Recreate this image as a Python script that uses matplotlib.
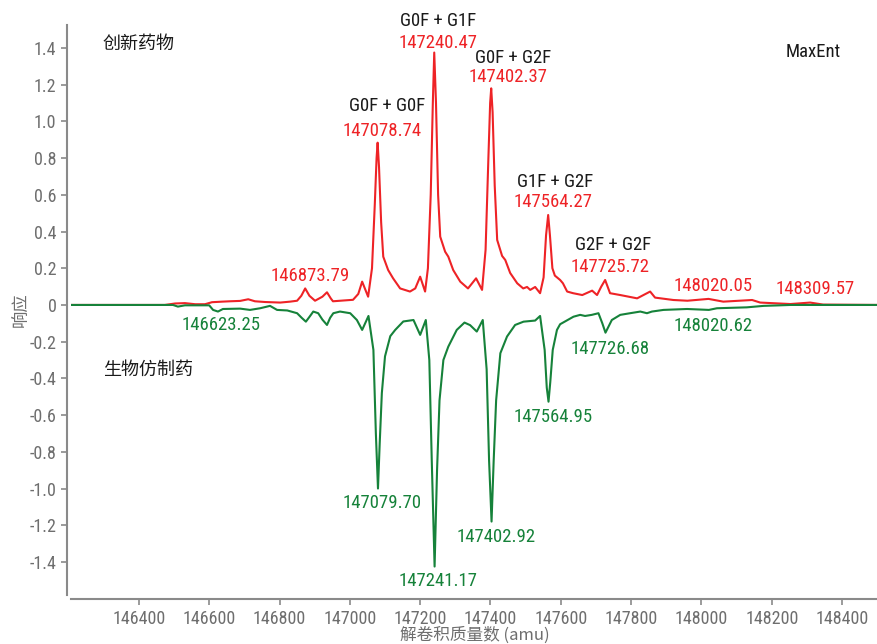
import matplotlib
matplotlib.use("Agg")
import matplotlib.pyplot as plt

plt.rcParams['font.family'] = ['Roboto Condensed', 'Archivo Narrow', 'Noto Sans CJK SC', 'DejaVu Sans']
cjk = ["Noto Sans CJK SC", "DejaVu Sans"]

# 创新药物 (红色, 正向)
innov_mass = [146207, 146474, 146503, 146531, 146560, 146588, 146608, 146637, 146659, 146688,
              146711, 146730, 146759, 146802, 146830, 146850, 146862, 146873, 146885, 146901,
              146922, 146935, 146946, 146952, 146987, 147009, 147024, 147035, 147052, 147063,
              147071, 147076, 147079, 147083, 147089, 147095, 147109, 147123, 147143, 147171,
              147186, 147200, 147214, 147222, 147230, 147236, 147240, 147245, 147251, 147257,
              147271, 147280, 147294, 147314, 147336, 147359, 147376, 147386, 147394, 147399,
              147402, 147406, 147412, 147419, 147433, 147442, 147456, 147476, 147493, 147504,
              147513, 147527, 147541, 147551, 147558, 147564, 147569, 147576, 147583, 147598,
              147606, 147618, 147635, 147661, 147689, 147703, 147715, 147726, 147740, 147769,
              147817, 147854, 147868, 147920, 147960, 148020, 148062, 148144, 148167, 148253,
              148309, 148346, 148502]
innov_int = [0, 0, 0.008, 0.01, 0.004, 0.004, 0.015, 0.018, 0.02, 0.022,
             0.031, 0.02, 0.016, 0.013, 0.018, 0.023, 0.05, 0.09, 0.05, 0.023,
             0.045, 0.069, 0.035, 0.02, 0.025, 0.028, 0.06, 0.127, 0.045, 0.2,
             0.55, 0.8, 0.884, 0.75, 0.45, 0.263, 0.19, 0.145, 0.09, 0.073,
             0.09, 0.154, 0.073, 0.2, 0.6, 1.1, 1.375, 1.1, 0.6, 0.372,
             0.29, 0.263, 0.19, 0.127, 0.09, 0.145, 0.082, 0.3, 0.8, 1.1,
             1.18, 1.05, 0.65, 0.354, 0.267, 0.245, 0.174, 0.118, 0.09, 0.098,
             0.082, 0.098, 0.064, 0.15, 0.38, 0.49, 0.38, 0.2, 0.16, 0.136,
             0.118, 0.073, 0.064, 0.054, 0.078, 0.054, 0.1, 0.136, 0.064, 0.054,
             0.036, 0.073, 0.04, 0.027, 0.023, 0.033, 0.018, 0.027, 0.013, 0.005,
             0.013, 0.002, 0]

# 生物仿制药 (绿色, 负向)
bio_mass = [146207, 146497, 146511, 146531, 146600, 146611, 146625, 146639, 146688, 146716,
            146745, 146773, 146793, 146822, 146850, 146863, 146875, 146887, 146896, 146910,
            146922, 146935, 146944, 146953, 146972, 147001, 147020, 147035, 147053, 147067,
            147074, 147080, 147085, 147091, 147100, 147115, 147129, 147152, 147181, 147200,
            147216, 147226, 147233, 147241, 147248, 147255, 147266, 147280, 147304, 147326,
            147342, 147361, 147378, 147389, 147396, 147403, 147409, 147416, 147428, 147447,
            147470, 147494, 147527, 147541, 147554, 147560, 147565, 147570, 147577, 147589,
            147598, 147636, 147655, 147669, 147688, 147707, 147718, 147727, 147745, 147769,
            147797, 147826, 147845, 147859, 147892, 147959, 148021, 148044, 148129, 148177,
            148224, 148253, 148502]
bio_int = [0, 0, -0.009, -0.002, -0.002, -0.027, -0.036, -0.022, -0.02, -0.027,
           -0.018, -0.005, -0.027, -0.03, -0.045, -0.07, -0.091, -0.06, -0.036, -0.045,
           -0.08, -0.109, -0.07, -0.045, -0.036, -0.045, -0.082, -0.136, -0.06, -0.245,
           -0.7, -1.0, -0.75, -0.48, -0.28, -0.17, -0.136, -0.09, -0.082, -0.163,
           -0.082, -0.3, -0.85, -1.425, -0.9, -0.52, -0.3, -0.227, -0.136, -0.096,
           -0.11, -0.145, -0.082, -0.35, -0.85, -1.18, -0.85, -0.52, -0.263, -0.172,
           -0.109, -0.091, -0.085, -0.06, -0.245, -0.45, -0.527, -0.42, -0.245, -0.136,
           -0.105, -0.064, -0.054, -0.06, -0.054, -0.045, -0.1, -0.151, -0.082, -0.054,
           -0.045, -0.036, -0.045, -0.036, -0.027, -0.022, -0.027, -0.018, -0.013, -0.005,
           -0.002, 0, 0]

# 峰标注
glycan_names = ["G0F + G0F", "G0F + G1F", "G0F + G2F", "G1F + G2F", "G2F + G2F"]
glycan_pos = [(147106, 1.084), (147251, 1.547), (147464, 1.345), (147583, 0.67), (147748, 0.327)]

innov_labels = ["146873.79", "147078.74", "147240.47", "147402.37", "147564.27",
                "147725.72", "148020.05", "148309.57"]
innov_label_pos = [(146887, 0.158), (147092, 0.948), (147251, 1.427), (147450, 1.242),
                   (147577, 0.561), (147739, 0.207), (148033, 0.103), (148322, 0.087)]

bio_labels = ["146623.25", "147079.70", "147241.17", "147402.92", "147564.95",
              "147726.68", "148020.62"]
bio_label_pos = [(146634, -0.109), (147091, -1.08), (147251, -1.503), (147415, -1.262),
                 (147577, -0.612), (147739, -0.241), (148033, -0.114)]

yticks = [-1.4, -1.2, -1.0, -0.8, -0.6, -0.4, -0.2, 0, 0.2, 0.4, 0.6, 0.8, 1.0, 1.2, 1.4]
xticks = [146400, 146600, 146800, 147000, 147200, 147400, 147600, 147800, 148000, 148200, 148400]

red = "#ee2326"
green = "#16823a"
gray = "#6e6e6e"

fig = plt.figure(figsize=(8.78, 6.44), dpi=100)
ax = fig.add_axes([71 / 878, 1 - 595 / 644, 1 - 71 / 878, (595 - 25) / 644])

ax.plot(innov_mass, innov_int, color=red, lw=1.5)
ax.plot(bio_mass, bio_int, color=green, lw=1.5)

for name, (x, y) in zip(glycan_names, glycan_pos):
    ax.text(x, y, name, ha="center", va="center", fontsize=13.5, color="#1a1a1a")
for lab, (x, y) in zip(innov_labels, innov_label_pos):
    ax.text(x, y, lab, ha="center", va="center", fontsize=13.5, color=red)
for lab, (x, y) in zip(bio_labels, bio_label_pos):
    ax.text(x, y, lab, ha="center", va="center", fontsize=13.5, color=green)

ax.text(146298, 1.42, "创新药物", ha="left", va="center", fontsize=13, family=cjk, color="#1a1a1a")
ax.text(146298, -0.354, "生物仿制药", ha="left", va="center", fontsize=13, family=cjk, color="#1a1a1a")
ax.text(148395, 1.38, "MaxEnt", ha="right", va="center", fontsize=13.5, color="#1a1a1a")

ax.set_xlim(146207, 148502)
ax.set_ylim(-1.58, 1.525)
ax.set_xticks(xticks)
ax.set_xticklabels([str(t) for t in xticks])
ax.set_yticks(yticks)
ax.set_yticklabels(["0" if t == 0 else f"{t:.1f}" for t in yticks])

for side in ["top", "right"]:
    ax.spines[side].set_visible(False)
for side in ["left", "bottom"]:
    ax.spines[side].set_color("#8a8a8a")
    ax.spines[side].set_linewidth(1.5)
    ax.spines[side].set_position(("outward", 3))

ax.tick_params(axis="both", colors="#8a8a8a", labelcolor=gray, length=4, width=1.2, labelsize=13)

ax.set_xlabel("解卷积质量数 (amu)", fontsize=12, color=gray, family=cjk, va="center")
ax.xaxis.set_label_coords(0.5, -(635 - 595) / 570)
ax.set_ylabel("响应", fontsize=12.5, color=gray, family=cjk, va="center")
ax.yaxis.set_label_coords(-(71 - 21.5) / 807, 0.5)

fig.savefig("out.png", dpi=100)
